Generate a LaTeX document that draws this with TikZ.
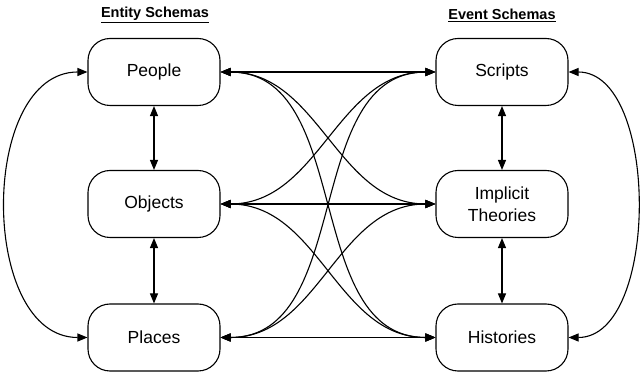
\documentclass[tikz,border=0pt]{standalone}
\usepackage{fontspec}
\setmainfont{Liberation Sans}
\usetikzlibrary{arrows.meta}

\tikzset{
  schema/.style={draw, line width=1.1pt, rounded corners=22pt, minimum width=132pt,
    minimum height=67pt, align=center, font=\fontsize{17.5}{22}\selectfont, inner sep=0pt},
  head/.style={font=\fontsize{14.5}{17}\selectfont\bfseries},
  link/.style={line width=1.1pt, {Triangle[length=10pt,width=8pt]}-{Triangle[length=10pt,width=8pt]}}
}

\begin{document}
\begin{tikzpicture}[x=1pt,y=1pt]
        \useasboundingbox (0,0) rectangle (641,375);

        \node[head] (enthead) at (155,360) {\underline{Entity Schemas}};
        \node[head] (evthead) at (502,360) {\underline{Event Schemas}};

        \node[schema] (people)    at (154,303)  {People};
        \node[schema] (objects)   at (154,171)  {Objects};
        \node[schema] (places)    at (154,37.5) {Places};
        \node[schema] (scripts)   at (502,303)  {Scripts};
        \node[schema] (theories)  at (502,171)  {Implicit\\Theories};
        \node[schema] (histories) at (502,37.5) {Histories};

        % within a column
        \draw[link] (people) -- (objects);
        \draw[link] (objects) -- (places);
        \draw[link] (scripts) -- (theories);
        \draw[link] (theories) -- (histories);
        \draw[link] (people.west) to[out=180,in=180,looseness=1.05] (places.west);
        \draw[link] (scripts.east) to[out=0,in=0,looseness=0.88] (histories.east);

        % across the columns
        \draw[link] (people.east) -- (scripts.west);
        \draw[link] (people.east) to[out=0,in=180] (theories.west);
        \draw[link] (people.east) to[out=0,in=180] (histories.west);
        \draw[link] (objects.east) to[out=0,in=180] (scripts.west);
        \draw[link] (objects.east) -- (theories.west);
        \draw[link] (objects.east) to[out=0,in=180] (histories.west);
        \draw[link] (places.east) to[out=0,in=180] (scripts.west);
        \draw[link] (places.east) to[out=0,in=180] (theories.west);
        \draw[link] (places.east) -- (histories.west);
\end{tikzpicture}
\end{document}
